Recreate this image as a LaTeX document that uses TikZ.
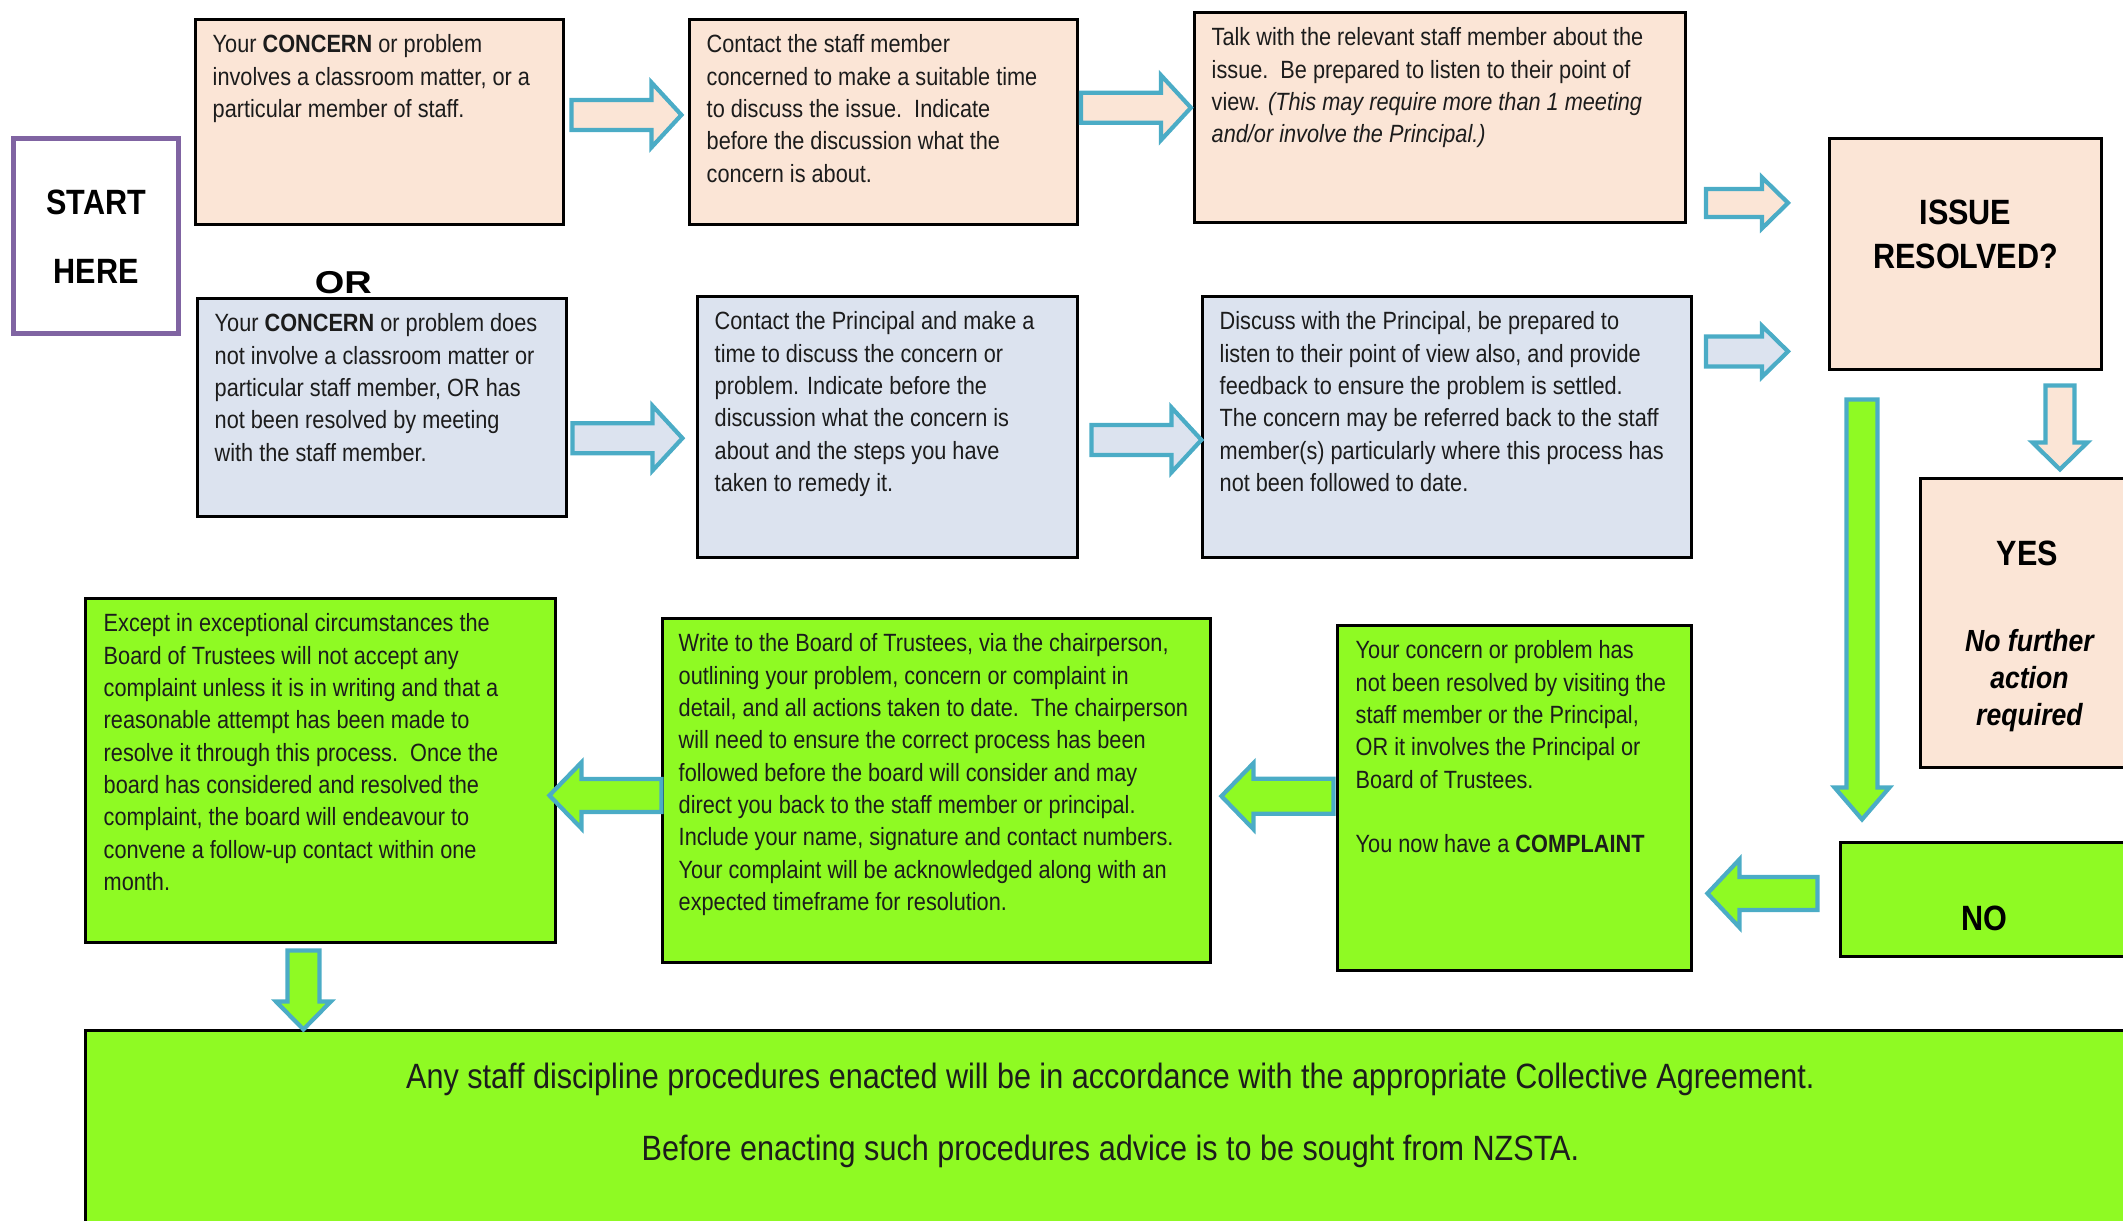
\documentclass[tikz,border=0pt]{standalone}
\usepackage{fontspec}
\setmainfont{Liberation Sans}[FakeStretch=0.87]
\newfontfamily\orfont{Liberation Sans}[FakeStretch=1.2]
\usetikzlibrary{positioning}
\usetikzlibrary{calc}

\definecolor{peach}{HTML}{FBE5D6}
\definecolor{paleblue}{HTML}{DCE3EF}
\definecolor{complaintgreen}{HTML}{8FFA23}
\definecolor{arrowblue}{HTML}{4BACC6}
\definecolor{startpurple}{HTML}{8064A2}
\definecolor{inkgrey}{HTML}{1C1C1C}

\tikzset{
  flowbox/.style={draw=black, line width=0.8pt, inner sep=0pt, anchor=north west},
  peachbox/.style={flowbox, fill=peach},
  bluebox/.style={flowbox, fill=paleblue},
  greenbox/.style={flowbox, fill=complaintgreen},
  bodytext/.style={align=left, inner sep=0pt, anchor=north west, text=inkgrey,
    font=\fontsize{7.1}{9.2}\selectfont},
  titletext/.style={align=center, inner sep=0pt, text=black,
    font=\bfseries\fontsize{10}{12.5}\selectfont},
  arrlen/.store in=\arrlen, shaftw/.store in=\shaftw,
  headw/.store in=\headw, headlen/.store in=\headlen,
  arrlen=1.1, shaftw=0.15, headw=0.325, headlen=0.3,
  pics/blockarrow/.style={code={
    \draw[draw=arrowblue, line width=1.2pt, pic actions]
      ({-\arrlen/2},{-\shaftw}) -- ({\arrlen/2-\headlen},{-\shaftw})
      -- ({\arrlen/2-\headlen},{-\headw}) -- ({\arrlen/2},0)
      -- ({\arrlen/2-\headlen},{\headw}) -- ({\arrlen/2-\headlen},{\shaftw})
      -- ({-\arrlen/2},{\shaftw}) -- cycle;
  }}
}

\begin{document}
\begin{tikzpicture}
\useasboundingbox (0,0) rectangle (21.23,-12.20);

\node[flowbox, draw=startpurple, line width=1.5pt, fill=white,
  minimum width=1.65cm, minimum height=1.95cm] (start) at (0.11,-1.36) {};
\node[titletext, anchor=north, font=\bfseries\fontsize{10}{19.6}\selectfont]
  (starttxt) at ([yshift=-0.53cm]start.north) {START\\HERE};

\node[peachbox, minimum width=3.68cm, minimum height=2.05cm] (concern) at (1.94,-0.18) {};
\node[bodytext, below right=0.16cm and 0.18cm of concern.north west] (concerntxt)
  {Your \textbf{CONCERN} or problem\\involves a classroom matter, or a\\particular member of staff.};

\node[peachbox, minimum width=3.88cm, minimum height=2.05cm] (contact) at (6.88,-0.18) {};
\node[bodytext, below right=0.16cm and 0.18cm of contact.north west] (contacttxt)
  {Contact the staff member\\concerned to make a suitable time\\to discuss the issue.\ \ Indicate\\before the discussion what the\\concern is about.};

\node[peachbox, minimum width=4.91cm, minimum height=2.10cm] (talk) at (11.93,-0.11) {};
\node[bodytext, below right=0.16cm and 0.18cm of talk.north west] (talktxt)
  {Talk with the relevant staff member about the\\issue.\ \ Be prepared to listen to their point of\\view. \textit{(This may require more than 1 meeting}\\\textit{and/or involve the Principal.)}};

\node[bluebox, minimum width=3.69cm, minimum height=2.18cm] (other) at (1.96,-2.97) {};
\node[bodytext, below right=0.16cm and 0.18cm of other.north west] (othertxt)
  {Your \textbf{CONCERN} or problem does\\not involve a classroom matter or\\particular staff member, OR has\\not been resolved by meeting\\with the staff member.};
\node[inner sep=0pt, anchor=base, font=\orfont\bfseries\fontsize{9}{9}\selectfont]
  (ortxt) at ([xshift=-0.385cm, yshift=0.04cm]other.north) {OR};

\node[bluebox, minimum width=3.80cm, minimum height=2.61cm] (principal) at (6.96,-2.95) {};
\node[bodytext, below right=0.16cm and 0.18cm of principal.north west] (principaltxt)
  {Contact the Principal and make a\\time to discuss the concern or\\problem. Indicate before the\\discussion what the concern is\\about and the steps you have\\taken to remedy it.};

\node[bluebox, minimum width=4.89cm, minimum height=2.61cm] (discuss) at (12.01,-2.95) {};
\node[bodytext, below right=0.16cm and 0.18cm of discuss.north west] (discusstxt)
  {Discuss with the Principal, be prepared to\\listen to their point of view also, and provide\\feedback to ensure the problem is settled.\\The concern may be referred back to the staff\\member(s) particularly where this process has\\not been followed to date.};

\node[peachbox, minimum width=2.72cm, minimum height=2.31cm] (issue) at (18.28,-1.37) {};
\node[titletext, anchor=north] (issuetxt) at ([yshift=-0.62cm]issue.north) {ISSUE\\RESOLVED?};

\node[peachbox, minimum width=2.20cm, minimum height=2.89cm] (yes) at (19.19,-4.77) {};
\node[titletext, anchor=base] (yestxt) at ([xshift=-0.03cm, yshift=-0.88cm]yes.north) {YES};
\node[titletext, anchor=north, font=\bfseries\itshape\fontsize{8.7}{10.5}\selectfont]
  (yesnote) at ([xshift=-0.01cm, yshift=-1.52cm]yes.north) {No further\\action\\required};

\node[greenbox, minimum width=3.00cm, minimum height=1.14cm] (no) at (18.39,-8.41) {};
\node[titletext, anchor=base] (notxt) at ([xshift=1.45cm, yshift=-0.89cm]no.north west) {NO};

\node[greenbox, minimum width=3.54cm, minimum height=3.45cm] (complaint) at (13.36,-6.24) {};
\node[bodytext, below right=0.16cm and 0.19cm of complaint.north west] (complainttxt)
  {Your concern or problem has\\not been resolved by visiting the\\staff member or the Principal,\\OR it involves the Principal or\\Board of Trustees.\\[9.2pt]You now have a \textbf{COMPLAINT}};

\node[greenbox, minimum width=5.48cm, minimum height=3.44cm] (write) at (6.61,-6.17) {};
\node[bodytext, below right=0.16cm and 0.17cm of write.north west] (writetxt)
  {Write to the Board of Trustees, via the chairperson,\\outlining your problem, concern or complaint in\\detail, and all actions taken to date.\ \ The chairperson\\will need to ensure the correct process has been\\followed before the board will consider and may\\direct you back to the staff member or principal.\\Include your name, signature and contact numbers.\\Your complaint will be acknowledged along with an\\expected timeframe for resolution.};

\node[greenbox, minimum width=4.70cm, minimum height=3.44cm] (except) at (0.84,-5.97) {};
\node[bodytext, below right=0.16cm and 0.19cm of except.north west] (excepttxt)
  {Except in exceptional circumstances the\\Board of Trustees will not accept any\\complaint unless it is in writing and that a\\reasonable attempt has been made to\\resolve it through this process.\ \ Once the\\board has considered and resolved the\\complaint, the board will endeavour to\\convene a follow-up contact within one\\month.};

\node[greenbox, minimum width=20.60cm, minimum height=2.30cm] (agreement) at (0.84,-10.29) {};
\node[titletext, anchor=north, text=inkgrey, font=\fontsize{10}{20.5}\selectfont]
  (agreementtxt) at ([xshift=-0.05cm, yshift=-0.33cm]agreement.north)
  {Any staff discipline procedures enacted will be in accordance with the appropriate Collective Agreement.\\Before enacting such procedures advice is to be sought from NZSTA.};

\pic[fill=peach] at ($(concern.east)!.5!(contact.west)+(0,0.07)$) {blockarrow};
\pic[fill=peach] at ($(contact.east)!.5!(talk.west)+(0,0.12)$) {blockarrow};
\pic[fill=paleblue] at ($(other.east)!.5!(principal.west)+(-0.045,-0.21)$) {blockarrow};
\pic[fill=paleblue] at ($(principal.east)!.5!(discuss.west)+(0.065,-0.13)$) {blockarrow};
\pic[fill=peach, arrlen=0.82, headw=0.255, shaftw=0.14, headlen=0.26]
  at ($(issue.west)+(-0.81,0.51)$) {blockarrow};
\pic[fill=paleblue, arrlen=0.82, headw=0.255, shaftw=0.15, headlen=0.26]
  at ($(issue.west)+(-0.81,-0.975)$) {blockarrow};
\pic[fill=peach, rotate=-90, arrlen=0.84, headw=0.275, shaftw=0.145, headlen=0.27]
  at ($(issue.south)!.5!(yes.north)+(0.62,-0.035)$) {blockarrow};
\pic[fill=complaintgreen, rotate=-90, arrlen=4.2, headw=0.275, shaftw=0.155, headlen=0.32]
  at ($(issue.south west)!.5!(no.north west)+(0.285,-0.035)$) {blockarrow};
\pic[fill=complaintgreen, rotate=180, arrlen=1.10, headw=0.34, shaftw=0.165, headlen=0.32]
  at ($(no.west)!.5!(complaint.east |- no.west)+(-0.035,0.06)$) {blockarrow};
\pic[fill=complaintgreen, rotate=180, arrlen=1.12, headw=0.33, shaftw=0.175, headlen=0.32]
  at ($(complaint.west)!.5!(write.east)+(0.035,-0.02)$) {blockarrow};
\pic[fill=complaintgreen, rotate=180, arrlen=1.12, headw=0.33, shaftw=0.165, headlen=0.32]
  at ($(write.west)!.5!(except.east)+(-0.035,-0.15)$) {blockarrow};
\pic[fill=complaintgreen, rotate=-90, arrlen=0.79, headw=0.275, shaftw=0.16, headlen=0.28]
  at ($(except.south)!.5!(except.south |- agreement.north)+(-0.17,-0.035)$) {blockarrow};
\end{tikzpicture}
\end{document}
